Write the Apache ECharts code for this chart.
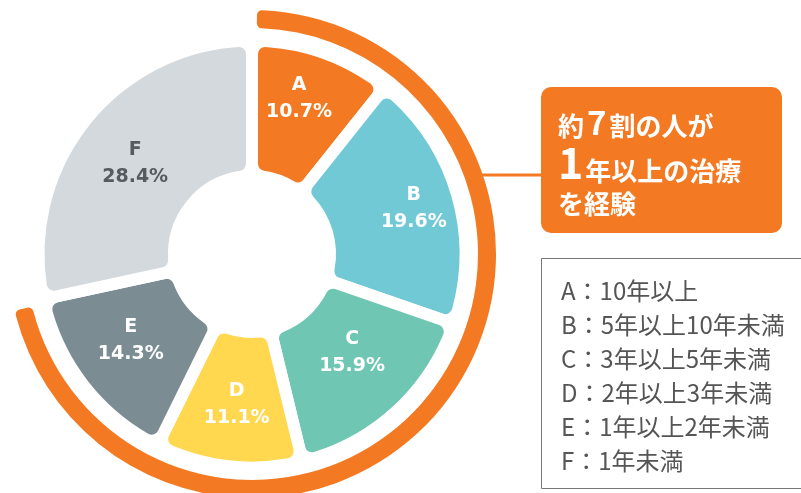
<!DOCTYPE html>
<html>
<head>
<meta charset="utf-8">
<script src="https://cdn.jsdelivr.net/npm/echarts@6/dist/echarts.min.js"></script>
<style>
html,body{margin:0;padding:0;background:#fff;}
#chart{width:801px;height:493px;}
</style>
</head>
<body>
<div id="chart"></div>
<script>
// ---- data ----
const categories = ['A', 'B', 'C', 'D', 'E', 'F'];
const values = [10.7, 19.6, 15.9, 11.1, 14.3, 28.4];
const descriptions = ['10年以上', '5年以上10年未満', '3年以上5年未満', '2年以上3年未満', '1年以上2年未満', '1年未満'];
const colors = ['#F37A22', '#71C9D5', '#6FC6B3', '#FFD84F', '#7B8D93', '#D3D9DC'];
const highlightCount = 5; // A..E are "1年以上"

const ORANGE = '#F37A22';
const chart = echarts.init(document.getElementById('chart'), null, {renderer: 'canvas'});

const highlightSum = values.slice(0, highlightCount).reduce((a, b) => a + b, 0);
const restSum = values.slice(highlightCount).reduce((a, b) => a + b, 0);

const labelShift = [[-2, -15], [19, -4], [0, -11], [1, 3], [-4, -5], [-1, 3]];

const center = [252, 254];

const option = {
  animation: false,
  series: [
    {
      type: 'pie',
      silent: true,
      center: center,
      radius: [78, 213.5],
      startAngle: 90,
      clockwise: true,
      itemStyle: {borderColor: '#fff', borderWidth: 12, borderRadius: 13},
      label: {
        show: true,
        position: 'inside',
        formatter: p => p.name + '\n' + p.value.toFixed(1) + '%',
        color: '#fff',
        fontFamily: 'DejaVu Sans',
        fontWeight: 'bold',
        fontSize: 19,
        lineHeight: 27,
        align: 'center'
      },
      labelLine: {show: false},
      labelLayout: p => ({dx: labelShift[p.dataIndex][0], dy: labelShift[p.dataIndex][1]}),
      data: categories.map((c, i) => ({
        name: c,
        value: values[i],
        itemStyle: {color: colors[i]},
        label: i === 5 ? {color: '#555B5E'} : {}
      }))
    },
    {
      type: 'pie',
      silent: true,
      center: center,
      radius: [226, 244],
      startAngle: 90,
      clockwise: true,
      padAngle: 2.4,
      itemStyle: {borderRadius: 5},
      label: {show: false},
      labelLine: {show: false},
      data: [
        {value: highlightSum, itemStyle: {color: ORANGE}},
        {value: restSum, itemStyle: {color: 'rgba(0,0,0,0)'}}
      ]
    }
  ],
  graphic: [
    {
      type: 'line',
      shape: {x1: 478, y1: 175, x2: 545, y2: 175},
      style: {stroke: ORANGE, lineWidth: 3},
      z: 5
    },
    {
      type: 'rect',
      shape: {x: 541, y: 87, width: 241, height: 146, r: 10},
      style: {fill: ORANGE},
      z: 6
    },
    {
      type: 'text',
      x: 558, y: 99,
      z: 7,
      style: {
        text: '{k|約}{n|7}{k|割の人が}\n{n2|1}{k|年以上の治療}\n{k|を経験}',
        fill: '#fff',
        rich: {
          k: {fontFamily: 'Noto Sans CJK JP', fontWeight: 'bold', fontSize: 26, fill: '#fff', lineHeight: 33, verticalAlign: 'bottom'},
          n: {fontFamily: 'Noto Sans CJK JP', fontWeight: 'bold', fontSize: 33, fill: '#fff', lineHeight: 40, verticalAlign: 'bottom', padding: [0, 3, 0, 3]},
          n2: {fontFamily: 'Noto Sans CJK JP', fontWeight: 'bold', fontSize: 43, fill: '#fff', lineHeight: 45, verticalAlign: 'bottom', padding: [0, 2, 0, 0]}
        }
      }
    },
    {
      type: 'rect',
      shape: {x: 541.5, y: 258.5, width: 280, height: 230},
      style: {fill: 'none', stroke: '#777', lineWidth: 1},
      z: 6
    },
    {
      type: 'text',
      x: 561, y: 274,
      z: 7,
      style: {
        text: categories.map((c, i) => c + '：' + descriptions[i]).join('\n'),
        fill: '#555',
        fontFamily: 'Noto Sans CJK JP',
        fontSize: 24,
        lineHeight: 34
      }
    }
  ]
};
chart.setOption(option);
</script>
</body>
</html>
